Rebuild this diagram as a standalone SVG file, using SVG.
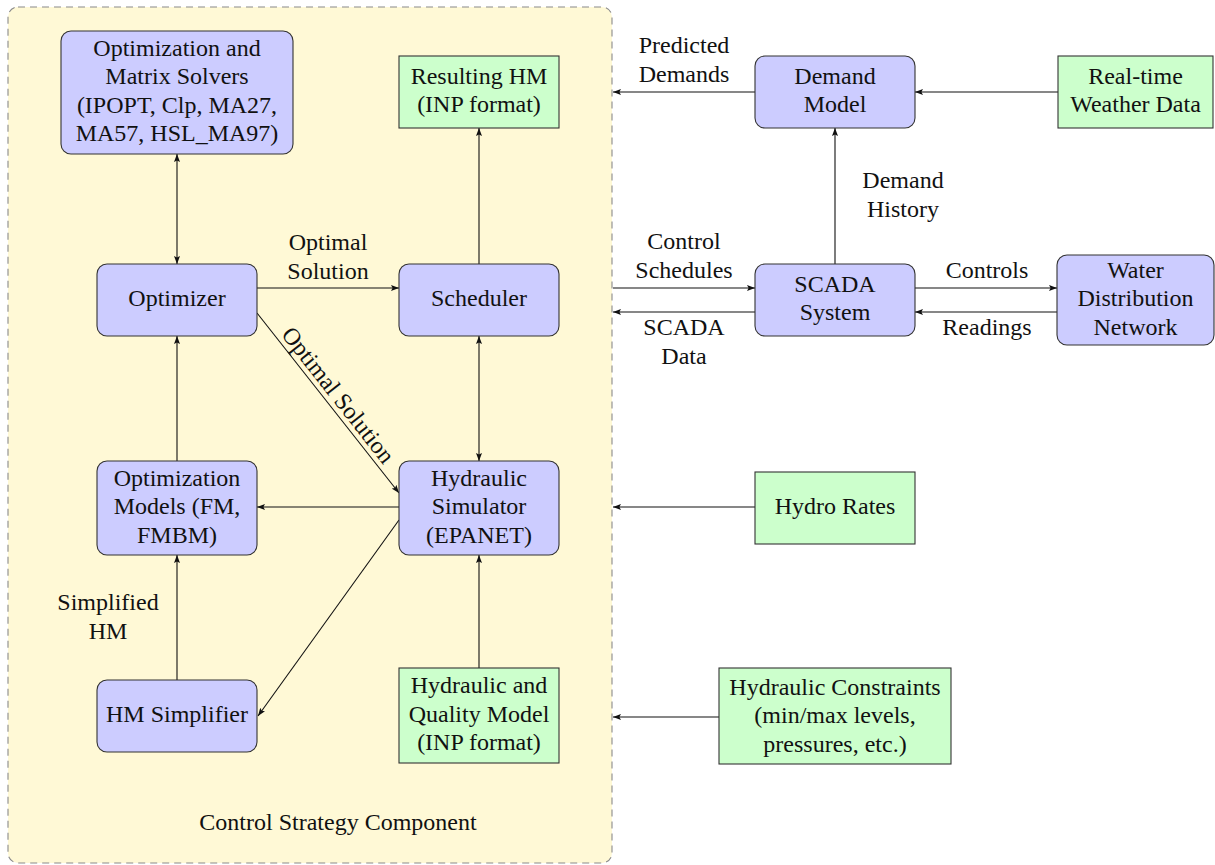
<svg xmlns="http://www.w3.org/2000/svg" width="1215" height="865" viewBox="0 0 1215 865">
<defs>
<style>
text{font-family:"Liberation Serif","Times New Roman",serif;font-size:24px;fill:#111;text-anchor:middle}
.blue{fill:#CCCCFF;stroke:#333;stroke-width:1.1}
.green{fill:#CCFFCC;stroke:#333;stroke-width:1.1}
.c line,.c path{stroke:#111;stroke-width:1.1;fill:none}
.c .a{marker-end:url(#ah)}
.c .b{marker-start:url(#ah);marker-end:url(#ah)}
</style>
<marker id="ah" viewBox="0 0 8 6" refX="8" refY="3" markerWidth="8" markerHeight="6" markerUnits="userSpaceOnUse" orient="auto-start-reverse">
<path d="M0,0 L8,3 L0,6 L1.6,3 z" fill="#111"/>
</marker>
</defs>

<g id="container">
<rect x="8" y="7" width="604" height="856" rx="10" fill="#FFF9D6" stroke="#8a8a8a" stroke-width="1.1" stroke-dasharray="7,5"/>
<text x="338" y="830">Control Strategy Component</text>
</g>

<g id="connectors" class="c">
<line class="b" x1="177" y1="154" x2="177" y2="264"/>
<line class="a" x1="257" y1="288" x2="399" y2="288"/>
<line class="a" x1="257" y1="313" x2="399" y2="493"/>
<line class="a" x1="479" y1="264" x2="479" y2="128"/>
<line class="b" x1="479" y1="336" x2="479" y2="461"/>
<line class="a" x1="399" y1="507" x2="257" y2="507"/>
<line class="a" x1="177" y1="461" x2="177" y2="336"/>
<line class="a" x1="177" y1="680" x2="177" y2="555"/>
<line class="a" x1="399" y1="520" x2="258" y2="716"/>
<line class="a" x1="479" y1="668" x2="479" y2="555"/>
<line class="a" x1="755" y1="92" x2="613" y2="92"/>
<line class="a" x1="1058" y1="92" x2="915" y2="92"/>
<line class="a" x1="835" y1="264" x2="835" y2="128"/>
<line class="a" x1="613" y1="288" x2="755" y2="288"/>
<line class="a" x1="755" y1="312" x2="613" y2="312"/>
<line class="a" x1="915" y1="288" x2="1057" y2="288"/>
<line class="a" x1="1057" y1="312" x2="915" y2="312"/>
<line class="a" x1="755" y1="507" x2="613" y2="507"/>
<line class="a" x1="719" y1="717" x2="613" y2="717"/>
<text x="328" y="250">Optimal</text>
<text x="328" y="279">Solution</text>
<text transform="translate(328,403) rotate(51.7)" x="0" y="-5">Optimal Solution</text>
<text x="108" y="610">Simplified</text>
<text x="108" y="639">HM</text>
<text x="684" y="53">Predicted</text>
<text x="684" y="82">Demands</text>
<text x="684" y="249">Control</text>
<text x="684" y="278">Schedules</text>
<text x="684" y="335">SCADA</text>
<text x="684" y="364">Data</text>
<text x="903" y="188">Demand</text>
<text x="903" y="217">History</text>
<text x="987" y="278">Controls</text>
<text x="987" y="335">Readings</text>
</g>

<g id="solvers">
<rect class="blue" x="61" y="31" width="232" height="123" rx="10"/>
<text x="177" y="55.5">Optimization and</text>
<text x="177" y="84">Matrix Solvers</text>
<text x="177" y="112.5">(IPOPT, Clp, MA27,</text>
<text x="177" y="141">MA57, HSL_MA97)</text>
</g>
<g id="resulting-hm">
<rect class="green" x="399" y="56" width="160" height="72"/>
<text x="479" y="83.5">Resulting HM</text>
<text x="479" y="112">(INP format)</text>
</g>
<g id="optimizer">
<rect class="blue" x="97" y="264" width="160" height="72" rx="10"/>
<text x="177" y="306">Optimizer</text>
</g>
<g id="scheduler">
<rect class="blue" x="399" y="264" width="160" height="72" rx="10"/>
<text x="479" y="306">Scheduler</text>
</g>
<g id="optimization-models">
<rect class="blue" x="97" y="461" width="160" height="94" rx="10"/>
<text x="177" y="485.5">Optimization</text>
<text x="177" y="514">Models (FM,</text>
<text x="177" y="542.5">FMBM)</text>
</g>
<g id="hydraulic-simulator">
<rect class="blue" x="399" y="461" width="160" height="94" rx="10"/>
<text x="479" y="485.5">Hydraulic</text>
<text x="479" y="514">Simulator</text>
<text x="479" y="542.5">(EPANET)</text>
</g>
<g id="hm-simplifier">
<rect class="blue" x="97" y="680" width="160" height="72" rx="10"/>
<text x="177" y="722">HM Simplifier</text>
</g>
<g id="hq-model">
<rect class="green" x="399" y="668" width="160" height="95"/>
<text x="479" y="693">Hydraulic and</text>
<text x="479" y="721.5">Quality Model</text>
<text x="479" y="750">(INP format)</text>
</g>
<g id="demand-model">
<rect class="blue" x="755" y="56" width="160" height="72" rx="10"/>
<text x="835" y="83.5">Demand</text>
<text x="835" y="112">Model</text>
</g>
<g id="weather">
<rect class="green" x="1058" y="56" width="155" height="72"/>
<text x="1135.5" y="83.5">Real-time</text>
<text x="1135.5" y="112">Weather Data</text>
</g>
<g id="scada">
<rect class="blue" x="755" y="264" width="160" height="72" rx="10"/>
<text x="835" y="291.5">SCADA</text>
<text x="835" y="320">System</text>
</g>
<g id="wdn">
<rect class="blue" x="1057" y="255" width="157" height="90" rx="10"/>
<text x="1135.5" y="277.5">Water</text>
<text x="1135.5" y="306">Distribution</text>
<text x="1135.5" y="334.5">Network</text>
</g>
<g id="hydro-rates">
<rect class="green" x="755" y="472" width="160" height="72"/>
<text x="835" y="514">Hydro Rates</text>
</g>
<g id="constraints">
<rect class="green" x="719" y="668" width="232" height="96"/>
<text x="835" y="694.5">Hydraulic Constraints</text>
<text x="835" y="723">(min/max levels,</text>
<text x="835" y="751.5">pressures, etc.)</text>
</g>
</svg>
